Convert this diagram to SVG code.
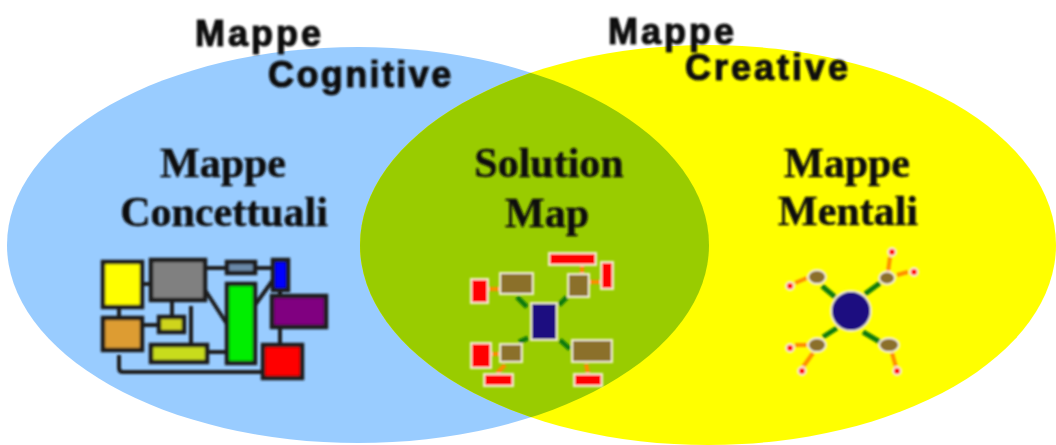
<svg xmlns="http://www.w3.org/2000/svg" width="1056" height="445" viewBox="0 0 1056 445">
<style>
.sans{font-family:"Liberation Sans",Arial,sans-serif;font-weight:bold;font-size:36px;fill:#111;stroke:#111;stroke-width:1.1px}
.serif{font-family:"Liberation Serif","Times New Roman",serif;font-weight:bold;font-size:42px;fill:#111;stroke:#111;stroke-width:.5px;text-anchor:middle}
.b rect{stroke:#1a1a1a;stroke-width:4.5px}
.k{stroke:#1a1a1a;stroke-width:4px;fill:none}
.g{stroke:#0b7a0b;stroke-width:5px;fill:none}
.o{stroke:#ff8c00;stroke-width:4px;fill:none}
.m rect{stroke:#f2efd8;stroke-width:2px}
.r{fill:#f00}
.br{fill:#8b6f2a}
.d circle,.d ellipse{stroke:#f6f0e0;stroke-width:2px}
</style>
<defs>
<clipPath id="c"><ellipse cx="358" cy="245" rx="351" ry="198"/></clipPath>
<filter id="s" x="-5%" y="-5%" width="110%" height="110%"><feGaussianBlur stdDeviation="0.8"/></filter>
</defs>
<rect width="1056" height="445" fill="#fff"/>
<g id="venn">
<ellipse cx="358" cy="245" rx="351" ry="198" fill="#99ccff"/>
<ellipse cx="708" cy="245" rx="348" ry="200" fill="#ffff00"/>
<ellipse cx="708" cy="245" rx="348" ry="200" fill="#99cc00" clip-path="url(#c)"/>
</g>
<g id="labels" filter="url(#s)">
<text class="sans" x="195" y="46" letter-spacing="3">Mappe</text>
<text class="sans" x="608" y="44" letter-spacing="3">Mappe</text>
<text class="sans" x="268" y="87" letter-spacing="2.4">Cognitive</text>
<text class="sans" x="685" y="80" letter-spacing="3">Creative</text>
<text class="serif" x="223" y="177">Mappe</text>
<text class="serif" x="224" y="226">Concettuali</text>
<text class="serif" x="549" y="177">Solution</text>
<text class="serif" x="547" y="227">Map</text>
<text class="serif" x="847" y="177">Mappe</text>
<text class="serif" x="848" y="225">Mentali</text>
</g>
<g id="concept-map" filter="url(#s)">
<g id="concept-connectors">
<path class="k" d="M142 284H151M205 268H227M255 268H273M205 290L227 324M273 280L255 305M280 290V296M172 300V317M142 325H162M191 306V345M207 352H227M280 327V345M119 355V368Q119 372 123 372H263M119 307V318"/>
</g>
<g id="concept-nodes" class="b">
<rect id="c1" x="103" y="262" width="39" height="45" fill="#ff0"/>
<rect id="c2" x="151" y="260" width="54" height="40" fill="#808080"/>
<rect id="c3" x="227" y="262" width="28" height="11" fill="#6b89a8"/>
<rect id="c4" x="273" y="260" width="15" height="30" fill="#00f"/>
<rect id="c5" x="227" y="284" width="28" height="79" fill="#0e0"/>
<rect id="c6" x="272" y="296" width="54" height="31" fill="#800080"/>
<rect id="c7" x="263" y="345" width="39" height="33" fill="#f00"/>
<rect id="c8" x="103" y="318" width="39" height="32" fill="#dd9c33"/>
<rect id="c9" x="159" y="317" width="25" height="15" fill="#cfd51e"/>
<rect id="c10" x="151" y="345" width="56" height="17" fill="#c8dc1c"/>
</g>
</g>
<g id="solution-map" filter="url(#s)">
<g id="solution-connectors">
<path class="g" d="M517 297L527 307M559 305L567 297M519 342L528 338M560 340L570 349"/>
<path class="o" d="M488 289H499M582 266V273M589 282H600M491 354H499M505 365L497 373M586 364L588 373"/>
</g>
<g id="solution-nodes" class="m">
<rect id="s0" x="531" y="303" width="26" height="37" fill="#1a0f80"/>
<rect id="s1" class="br" x="500" y="273" width="33" height="21"/>
<rect id="s2" class="br" x="568" y="274" width="21" height="23"/>
<rect id="s3" class="br" x="500" y="344" width="22" height="18"/>
<rect id="s4" class="br" x="572" y="340" width="40" height="22"/>
<rect id="s5" class="r" x="549" y="253" width="47" height="12"/>
<rect id="s6" class="r" x="601" y="262" width="12" height="27"/>
<rect id="s7" class="r" x="471" y="279" width="17" height="24"/>
<rect id="s8" class="r" x="471" y="343" width="20" height="25"/>
<rect id="s9" class="r" x="484" y="374" width="29" height="12"/>
<rect id="s10" class="r" x="574" y="374" width="28" height="12"/>
</g>
</g>
<g id="mental-map" filter="url(#s)">
<g id="mental-connectors">
<path class="g" d="M822 286L835 297M865 294L880 283M823 337L837 328M863 332L880 342"/>
<path class="o" d="M888 272L890 257M897 275L908 272M807 278L795 283M807 345L795 345M813 353L803 367M892 353L896 367"/>
</g>
<g id="mental-nodes" class="d">
<circle id="m0" cx="851" cy="311" r="20" fill="#1a0f80"/>
<ellipse id="m1" class="br" cx="817" cy="277" rx="9" ry="7"/>
<ellipse id="m2" class="br" cx="887" cy="278" rx="8" ry="6.5"/>
<ellipse id="m3" class="br" cx="817" cy="345" rx="9" ry="7"/>
<ellipse id="m4" class="br" cx="889" cy="345" rx="10" ry="7"/>
<circle id="m5" class="r" cx="892" cy="252" r="4"/>
<circle id="m6" class="r" cx="914" cy="272" r="4"/>
<circle id="m7" class="r" cx="790" cy="286" r="4"/>
<circle id="m8" class="r" cx="790" cy="348" r="4"/>
<circle id="m9" class="r" cx="802" cy="371" r="4"/>
<circle id="m10" class="r" cx="897" cy="371" r="4"/>
</g>
</g>
</svg>
